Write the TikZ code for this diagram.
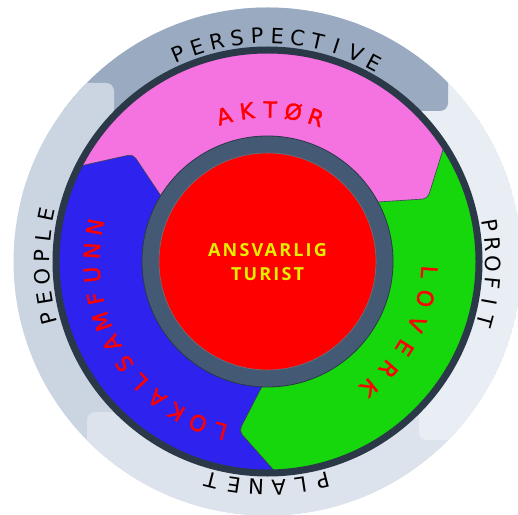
\documentclass[tikz,border=0pt]{standalone}
\usepackage{fontspec}
\setmainfont{Open Sans}
\newfontfamily\ctrfont{Open Sans}[LetterSpace=12]
\newfontfamily\arcfont{DejaVu Sans}
\newfontfamily\segfont{DejaVu Sans}[FakeBold=1.6]
\definecolor{topc}{HTML}{9AABC1}
\definecolor{leftc}{HTML}{CAD5E1}
\definecolor{bottomc}{HTML}{DDE3EC}
\definecolor{rightc}{HTML}{E9EEF5}
\definecolor{darkring}{HTML}{2A3848}
\definecolor{pinkc}{HTML}{F572E1}
\definecolor{bluec}{HTML}{2E22EE}
\definecolor{greenc}{HTML}{16D60C}
\definecolor{grayc}{HTML}{445A74}
\definecolor{segline}{HTML}{3A4656}
\definecolor{ctryellow}{HTML}{E2F000}
\definecolor{txtred}{HTML}{FF0000}
\tikzset{
  outertxt/.style={font=\arcfont\fontsize{21}{21}\selectfont, text=black, inner sep=0pt},
  segtxt/.style={font=\segfont\fontsize{22}{22}\selectfont, text=txtred, inner sep=0pt},
  segment/.style={draw=segline, line width=0.6pt, rounded corners=5pt},
}
% name, baseline radius, angle of first letter, step, style, letters
\newcommand{\arcword}[6]{%
  \foreach \ch [count=\i] in {#6} {%
    \pgfmathsetmacro{\ang}{#3-(\i-1)*(#4)}%
    \node[#5, rotate=\ang-90, anchor=base] (#1-\i) at (\ang:#2) {\ch};
  }%
}
\begin{document}
\begin{tikzpicture}[x=1pt,y=1pt]
\useasboundingbox (0,0) rectangle (518,514);
\coordinate (C) at (267.5,252.5);
% outer ring pieces
\begin{scope}
  \clip (C) circle (254);
  \fill[leftc] (C) circle (254);
  \fill[bottomc, rounded corners=8pt] (87,-100) rectangle (600,102);
  \fill[rightc, rounded corners=8pt] (419,74) rectangle (600,600);
  \fill[topc, rounded corners=8pt] (-100,403) rectangle (448,600);
  \fill[leftc, rounded corners=8pt] (-100,314) rectangle (114,431);
\end{scope}
\begin{scope}[shift={(267.5,252.5)}]
  % segments
  \fill[pinkc] (0,0) circle (213);
  \filldraw[fill=greenc, segment] (33.6:213) arc[start angle=33.6, end angle=-87.4, radius=213]
     -- (-99.6:172) -- (-91:118) arc[start angle=-91, end angle=30, radius=118]
     -- (21.4:172) -- cycle;
  \filldraw[fill=bluec, segment] (272.6:213) arc[start angle=272.6, end angle=153.6, radius=213]
     -- (141.4:172) -- (150:118) arc[start angle=150, end angle=269, radius=118]
     -- (260.4:172) -- cycle;
  % inner rings
  \filldraw[fill=grayc, draw=darkring, line width=0.8pt] (0,0) circle (125.5);
  \filldraw[fill=red, draw=darkring!70, line width=0.6pt] (0,0) circle (108.5);
  \draw[darkring, line width=7pt] (0,0) circle (211.5);
  % centre text
  \node[align=center, text=ctryellow, inner sep=0pt,
        font=\ctrfont\bfseries\fontsize{18}{24}\selectfont] (centre) at (0,-1) {ANSVARLIG\\TURIST};
  % segment labels
  \arcword{aktor}{144}{106.6}{8.8}{segtxt}{A,K,T,Ø,R}
  \arcword{lovverk}{154}{-3.7}{9.5}{segtxt}{L,O,V,E,R,K}
  \arcword{lokal}{168}{254.5}{7.8}{segtxt}{L,O,K,A,L,S,A,M,F,U,N,N}
  % outer labels
  \arcword{persp}{218.3}{113.25}{5.15}{outertxt}{P,E,R,S,P,E,C,T,I,V,E}
  \arcword{profit}{218.3}{9.25}{4.9}{outertxt}{P,R,O,F,I,T}
  \arcword{people}{218.3}{194.55}{5.3}{outertxt}{P,E,O,P,L,E}
  \arcword{planet}{218.3}{284.25}{5.7}{outertxt}{P,L,A,N,E,T}
\end{scope}
\end{tikzpicture}
\end{document}
